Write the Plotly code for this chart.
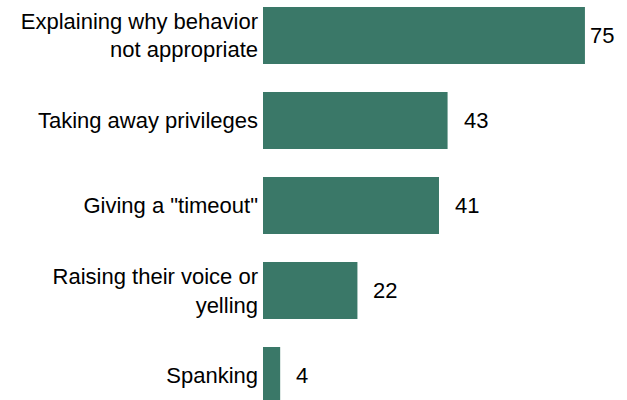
import plotly.graph_objects as go

# Dados
categorias = [
    "Explaining why behavior<br>not appropriate",
    "Taking away privileges",
    "Giving a \"timeout\"",
    "Raising their voice or<br>yelling",
    "Spanking",
]
valores = [75, 43, 41, 22, 4]

COR_BARRA = "#3a7868"
FONTE = "Liberation Sans, Arial, sans-serif"

fig = go.Figure()

fig.add_trace(
    go.Bar(
        x=valores,
        y=list(range(len(categorias))),
        orientation="h",
        width=0.67,
        marker=dict(color=COR_BARRA, line=dict(width=0)),
        hoverinfo="skip",
    )
)

# Rótulos dos valores
for i, v in enumerate(valores):
    fig.add_annotation(
        x=v,
        y=i,
        text=str(v),
        showarrow=False,
        xanchor="left",
        xshift=3 if v == max(valores) else 14,
        font=dict(family=FONTE, size=22, color="#000000"),
    )

fig.update_layout(
    width=627,
    height=400,
    margin=dict(l=263, r=0, t=0, b=0),
    paper_bgcolor="white",
    plot_bgcolor="white",
    showlegend=False,
    xaxis=dict(
        range=[0, 84.8],
        visible=False,
        fixedrange=True,
    ),
    yaxis=dict(
        tickmode="array",
        tickvals=list(range(len(categorias))),
        ticktext=categorias,
        range=[4.288, -0.4176],
        showgrid=False,
        zeroline=False,
        showline=False,
        ticks="",
        ticklabelstandoff=4,
        tickfont=dict(family=FONTE, size=22, color="#000000"),
        fixedrange=True,
    ),
)

fig.write_html(
    "out.html",
    config={"displayModeBar": False},
    post_script="document.body.style.margin='0px';",
)
